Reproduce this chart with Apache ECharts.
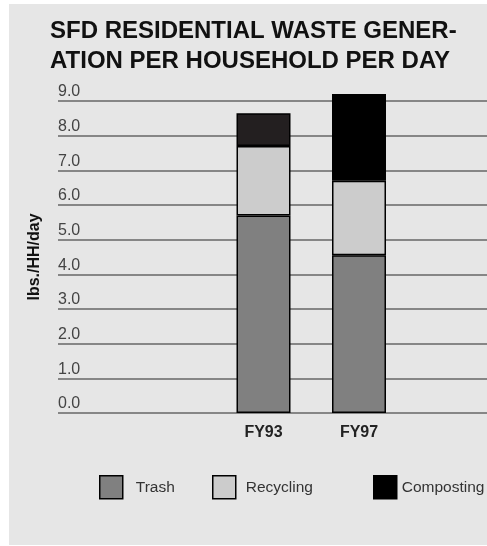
<!DOCTYPE html>
<html>
<head>
<meta charset="utf-8">
<script src="https://cdn.jsdelivr.net/npm/echarts@6/dist/echarts.min.js"></script>
<style>
html,body{margin:0;padding:0;background:#fff;}
#chart{width:487px;height:546px;}
</style>
</head>
<body>
<div id="chart"></div>
<script>
const categories = ['FY93', 'FY97'];
const trashValues = [5.7, 4.55];
const recyclingValues = [2.0, 2.15];
const compostingValues = [0.95, 2.5];
const yTicks = [0, 1, 2, 3, 4, 5, 6, 7, 8, 9];

const chart = echarts.init(document.getElementById('chart'), null, {renderer: 'canvas'});
const border = {borderColor: '#000', borderWidth: 1.5};

function legendFor(name, left, pad) {
  return {
    data: [name], left: left, top: 475, padding: 0,
    icon: 'rect', itemWidth: 23, itemHeight: 23,
    itemStyle: {borderColor: '#000', borderWidth: 1.5},
    selectedMode: false,
    textStyle: {fontFamily: 'Liberation Sans', fontSize: 15.5, color: '#333', padding: [2, 0, 0, pad]}
  };
}

const option = {
  animation: false,
  title: {
    text: 'SFD RESIDENTIAL WASTE GENER-\nATION PER HOUSEHOLD PER DAY',
    left: 50, top: 16, padding: 0,
    textStyle: {fontFamily: 'Liberation Sans', fontWeight: 'bold', fontSize: 24, color: '#111', lineHeight: 30}
  },
  graphic: [{
    type: 'rect', z: -100, silent: true,
    shape: {x: 9, y: 4, width: 500, height: 541},
    style: {fill: '#e6e6e6'}
  }],
  legend: [
    legendFor('Trash', 99, 8),
    legendFor('Recycling', 212, 5),
    legendFor('Composting', 373, 0)
  ],
  grid: [
    {left: 58, right: -20, top: 101, bottom: 133},
    {left: 215.75, right: 80.25, top: 101, bottom: 133}
  ],
  xAxis: [
    {gridIndex: 0, type: 'value', show: false},
    {
      gridIndex: 1, type: 'category', data: categories,
      axisLine: {show: false}, axisTick: {show: false},
      axisLabel: {fontFamily: 'Liberation Sans', fontWeight: 'bold', fontSize: 16, color: '#222', margin: 12}
    }
  ],
  yAxis: [
    {
      gridIndex: 0, type: 'value', min: yTicks[0], max: yTicks[yTicks.length - 1], interval: 1,
      name: 'lbs./HH/day', nameLocation: 'middle', nameRotate: 90, nameGap: 15,
      nameTextStyle: {fontFamily: 'Liberation Sans', fontWeight: 'bold', fontSize: 16, color: '#111'},
      axisLine: {show: false}, axisTick: {show: false},
      axisLabel: {
        inside: true, margin: 0, verticalAlign: 'bottom',
        fontFamily: 'Liberation Sans Narrow, Liberation Sans', fontSize: 16, color: '#444',
        padding: [0, 0, 1, 0],
        formatter: v => v.toFixed(1)
      },
      splitLine: {show: true, lineStyle: {color: '#666', width: 1.5}}
    },
    {gridIndex: 1, type: 'value', min: yTicks[0], max: yTicks[yTicks.length - 1], show: false, splitLine: {show: false}}
  ],
  series: [
    {
      name: 'Trash', type: 'bar', stack: 'w', xAxisIndex: 1, yAxisIndex: 1, barWidth: 54, clip: false,
      itemStyle: Object.assign({color: '#808080'}, border), data: trashValues
    },
    {
      name: 'Recycling', type: 'bar', stack: 'w', xAxisIndex: 1, yAxisIndex: 1, barWidth: 54, clip: false,
      itemStyle: Object.assign({color: '#cccccc'}, border), data: recyclingValues
    },
    {
      name: 'Composting', type: 'bar', stack: 'w', xAxisIndex: 1, yAxisIndex: 1, barWidth: 54, clip: false,
      itemStyle: Object.assign({color: '#000000'}, border),
      data: compostingValues.map((v, i) => i === 0 ? {value: v, itemStyle: {color: '#231f20'}} : v)
    }
  ]
};
chart.setOption(option);
</script>
</body>
</html>
